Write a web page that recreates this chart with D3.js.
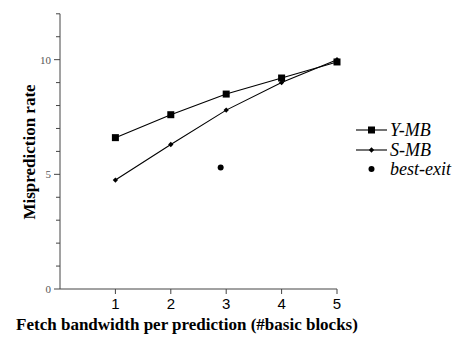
<!DOCTYPE html>
<html>
<head>
<meta charset="utf-8">
<script src="https://cdn.jsdelivr.net/npm/d3@7"></script>
<style>
  body { margin: 0; background: #fff; }
  svg { display: block; }
</style>
</head>
<body>
<svg width="461" height="337"></svg>
<script>
  // data
  var bandwidth = [1, 2, 3, 4, 5]
  var yMB = [6.6, 7.6, 8.5, 9.2, 9.9]
  var sMB = [4.75, 6.3, 7.8, 9.0, 10.0]
  var bestExit = [[2.9, 5.3]]
  var yTicks = [0, 5, 10]
  var seriesNames = ['Y-MB', 'S-MB', 'best-exit']

  var svg = d3.select('svg')

  var x = d3.scaleLinear().domain([0, 5]).range([60, 337])
  var y = d3.scaleLinear().domain([0, 12]).range([289, 13.8])

  var serif = '"Liberation Serif", "Times New Roman", serif'
  var sans = '"Liberation Sans", Arial, sans-serif'

  // y axis
  var yAxis = svg.append('g').attr('transform', 'translate(' + x(0) + ',0)')
  yAxis.append('line').attr('y1', y(0)).attr('y2', y(12)).attr('stroke', '#444')
  yAxis.selectAll('.minor').data(d3.range(0, 13)).enter().append('line')
    .attr('x1', 0).attr('x2', function(d){ return d % 5 == 0 ? -6 : -4 })
    .attr('y1', function(d){ return y(d) }).attr('y2', function(d){ return y(d) })
    .attr('stroke', '#444')
  yAxis.selectAll('text').data(yTicks).enter().append('text')
    .attr('x', -9).attr('y', function(d){ return y(d) + 4 })
    .attr('text-anchor', 'end')
    .style('font-family', serif).style('font-size', '11px').style('fill', '#555')
    .text(function(d){ return d })

  // x axis
  var xAxis = svg.append('g').attr('transform', 'translate(0,' + y(0) + ')')
  xAxis.append('line').attr('x1', x(0)).attr('x2', x(5)).attr('stroke', '#444')
  xAxis.selectAll('.tk').data(bandwidth).enter().append('line')
    .attr('x1', function(d){ return x(d) }).attr('x2', function(d){ return x(d) })
    .attr('y1', 0).attr('y2', 5).attr('stroke', '#444')
  xAxis.selectAll('text').data(bandwidth).enter().append('text')
    .attr('x', function(d){ return x(d) }).attr('y', 20)
    .attr('text-anchor', 'middle')
    .style('font-family', sans).style('font-size', '15px')
    .text(function(d){ return d })

  // axis titles
  svg.append('text')
    .attr('x', 187).attr('y', 330).attr('text-anchor', 'middle')
    .style('font-family', serif).style('font-weight', 'bold').style('font-size', '17px')
    .text('Fetch bandwidth per prediction (#basic blocks)')
  svg.append('text')
    .attr('transform', 'translate(35,152) rotate(-90)').attr('text-anchor', 'middle')
    .style('font-family', serif).style('font-weight', 'bold').style('font-size', '17px')
    .text('Misprediction rate')

  var line = d3.line()
    .x(function(d, i){ return x(bandwidth[i]) })
    .y(function(d){ return y(d) })

  // Y-MB
  svg.append('path').datum(yMB).attr('d', line)
    .attr('fill', 'none').attr('stroke', '#000').attr('stroke-width', 1.1)
  svg.selectAll('.sq').data(yMB).enter().append('rect')
    .attr('x', function(d, i){ return x(bandwidth[i]) - 3.5 })
    .attr('y', function(d){ return y(d) - 3.5 })
    .attr('width', 7).attr('height', 7).attr('fill', '#000')

  // S-MB
  svg.append('path').datum(sMB).attr('d', line)
    .attr('fill', 'none').attr('stroke', '#000').attr('stroke-width', 1.1)
  var diamond = d3.symbol().type(d3.symbolSquare).size(14)
  svg.selectAll('.dm').data(sMB).enter().append('path')
    .attr('d', diamond)
    .attr('transform', function(d, i){ return 'translate(' + x(bandwidth[i]) + ',' + y(d) + ') rotate(45)' })
    .attr('fill', '#000')

  // best-exit
  svg.selectAll('.be').data(bestExit).enter().append('circle')
    .attr('cx', function(d){ return x(d[0]) }).attr('cy', function(d){ return y(d[1]) })
    .attr('r', 3).attr('fill', '#000')

  // legend
  var lg = svg.append('g')
  var rows = [130, 150, 169]
  lg.selectAll('text').data(seriesNames).enter().append('text')
    .attr('x', 390).attr('y', function(d, i){ return rows[i] + 6 })
    .style('font-family', serif).style('font-style', 'italic').style('font-size', '18px')
    .text(function(d){ return d })
  lg.selectAll('line').data(rows.slice(0, 2)).enter().append('line')
    .attr('x1', 356).attr('x2', 387)
    .attr('y1', function(d){ return d }).attr('y2', function(d){ return d })
    .attr('stroke', '#000').attr('stroke-width', 1.1)
  lg.append('rect').attr('x', 368).attr('y', rows[0] - 3.5).attr('width', 7).attr('height', 7)
  lg.append('path').attr('d', diamond).attr('transform', 'translate(371.5,' + rows[1] + ') rotate(45)')
  lg.append('circle').attr('cx', 371.5).attr('cy', rows[2]).attr('r', 3)
</script>
</body>
</html>
